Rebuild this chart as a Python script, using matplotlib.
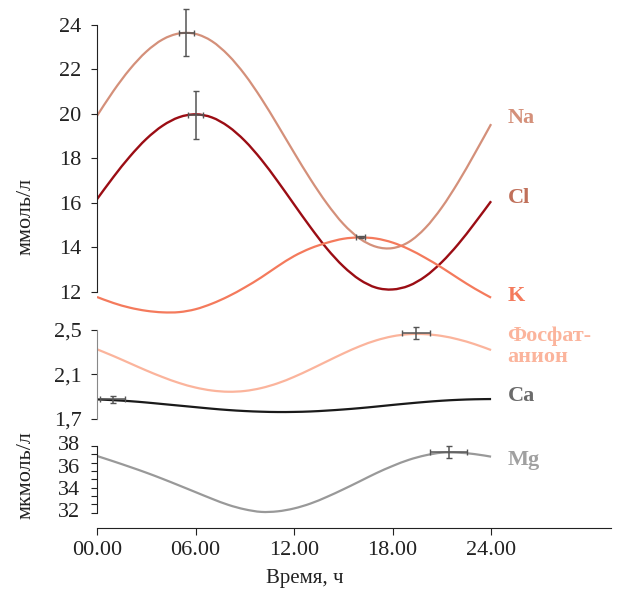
import matplotlib
matplotlib.use("Agg")
import matplotlib.pyplot as plt
import matplotlib.transforms as mtransforms
from matplotlib.path import Path
from matplotlib.patches import PathPatch

plt.rcParams['font.family'] = ['Liberation Serif', 'DejaVu Serif']

# hours of the day
hours = list(range(25))

# ммоль/л
na = [19.91, 21.03, 22.01, 22.80, 23.35, 23.62, 23.60, 23.27, 22.64, 21.77, 20.70, 19.50, 18.26,
      17.06, 15.97, 15.05, 14.39, 14.02, 13.96, 14.24, 14.87, 15.79, 16.93, 18.21, 19.54]
cl = [16.16, 17.16, 18.08, 18.87, 19.47, 19.85, 19.98, 19.84, 19.43, 18.79, 17.95, 16.97, 15.93,
      14.90, 13.94, 13.14, 12.54, 12.18, 12.10, 12.27, 12.69, 13.33, 14.14, 15.08, 16.07]
k = [11.76, 11.49, 11.28, 11.14, 11.07, 11.08, 11.21, 11.46, 11.79, 12.19, 12.64, 13.14, 13.60,
     13.95, 14.20, 14.38, 14.44, 14.39, 14.21, 13.91, 13.52, 13.08, 12.60, 12.14, 11.73]
phos = [2.326, 2.265, 2.200, 2.135, 2.075, 2.022, 1.981, 1.954, 1.943, 1.950, 1.976, 2.019, 2.077,
        2.145, 2.217, 2.288, 2.353, 2.406, 2.443, 2.462, 2.462, 2.446, 2.415, 2.372, 2.319]
ca = [1.874, 1.867, 1.858, 1.846, 1.832, 1.818, 1.804, 1.790, 1.778, 1.769, 1.763, 1.760, 1.761,
      1.765, 1.773, 1.783, 1.795, 1.809, 1.824, 1.838, 1.851, 1.862, 1.870, 1.875, 1.877]
# мкмоль/л
mg = [37.10, 36.62, 36.12, 35.60, 35.04, 34.45, 33.85, 33.25, 32.70, 32.30, 32.07, 32.12, 32.38,
      32.82, 33.42, 34.10, 34.82, 35.55, 36.20, 36.76, 37.16, 37.40, 37.40, 37.27, 37.04]

# error bars: (hour, value, hour err, value err)
na_err = (5.44, 23.65, 0.45, 1.05)
cl_err = (6.0, 19.95, 0.43, 1.06)
k_err = (16.05, 14.46, 0.25, 0.05)
phos_err = (19.43, 2.47, 0.88, 0.055)
ca_err = (0.96, 1.877, 0.75, 0.032)
mg_err = (21.43, 37.43, 1.12, 0.55)

xticks = [0, 6, 12, 18, 24]
xticklabels = ['00.00', '06.00', '12.00', '18.00', '24.00']

W, H = 623, 592
fig = plt.figure(figsize=(W / 100, H / 100), dpi=100)


def box(top, bottom):
    return [97 / W, (H - bottom) / H, 514 / W, (bottom - top) / H]


def smooth_line(ax, x, y, color, lw):
    # draw the points as a smooth curve (cubic bezier through every point)
    n = len(x)
    verts = [(x[0], y[0])]
    codes = [Path.MOVETO]
    for i in range(n - 1):
        i0 = max(i - 1, 0)
        i3 = min(i + 2, n - 1)
        c1 = (x[i] + (x[i + 1] - x[i0]) / 6, y[i] + (y[i + 1] - y[i0]) / 6)
        c2 = (x[i + 1] - (x[i3] - x[i]) / 6, y[i + 1] - (y[i3] - y[i]) / 6)
        verts += [c1, c2, (x[i + 1], y[i + 1])]
        codes += [Path.CURVE4] * 3
    ax.add_patch(PathPatch(Path(verts, codes), fill=False, edgecolor=color, lw=lw, capstyle='butt'))


ax1 = fig.add_axes(box(5, 315))
ax2 = fig.add_axes(box(318, 425))
ax3 = fig.add_axes(box(428, 520))

xmax = 514 / 16.42
for ax in (ax1, ax2, ax3):
    ax.set_facecolor('none')
    ax.set_xlim(0, xmax)
    ax.spines['top'].set_visible(False)
    ax.spines['right'].set_visible(False)
    ax.tick_params(axis='y', labelsize=16, length=4, pad=7, colors='#222222')
for ax in (ax1, ax2):
    ax.spines['bottom'].set_visible(False)
    ax.set_xticks([])

ax1.set_ylim(10.95, 24.90)
ax2.set_ylim(1.643, 2.608)
ax3.set_ylim(31.34, 39.62)

ebkw = dict(fmt='none', ecolor='#555555', elinewidth=1.1, capsize=2.5, capthick=1.0, zorder=5, clip_on=False)

# top panel
smooth_line(ax1, hours, na, '#d4907a', 1.6)
smooth_line(ax1, hours, cl, '#9b0d14', 1.7)
smooth_line(ax1, hours, k, '#f47a5c', 1.6)
for e in (na_err, cl_err, k_err):
    ax1.errorbar(e[0], e[1], xerr=e[2], yerr=e[3], **ebkw)
ax1.spines['left'].set_bounds(12, 24)
ax1.spines['left'].set_color('#222222')
ax1.set_yticks([12, 14, 16, 18, 20, 22, 24])

# middle panel
smooth_line(ax2, hours, phos, '#fbb49c', 1.6)
smooth_line(ax2, hours, ca, '#1a1a1a', 1.6)
for e in (phos_err, ca_err):
    ax2.errorbar(e[0], e[1], xerr=e[2], yerr=e[3], **ebkw)
ax2.spines['left'].set_bounds(1.7, 2.5)
ax2.spines['left'].set_color('#888888')
ax2.set_yticks([1.7, 2.1, 2.5])
ax2.set_yticklabels(['1,7', '2,1', '2,5'])

# bottom panel
smooth_line(ax3, hours, mg, '#999999', 1.6)
ax3.errorbar(mg_err[0], mg_err[1], xerr=mg_err[2], yerr=mg_err[3], **ebkw)
ax3.spines['left'].set_bounds(32, 38)
ax3.spines['left'].set_color('#222222')
ax3.set_yticks([32 + 0.75 * i for i in range(9)])
ax3.set_yticklabels([])
trans = mtransforms.blended_transform_factory(ax3.transAxes, ax3.transData)
for v in [32, 34, 36, 38]:
    ax3.text(-17 / 514, v, str(v), transform=trans, ha='right', va='center', fontsize=16, color='#222222')
ax3.spines['bottom'].set_position(('outward', 6))
ax3.spines['bottom'].set_bounds(0, xmax)
ax3.spines['bottom'].set_color('#222222')
ax3.set_xticks(xticks)
ax3.set_xticklabels(xticklabels)
ax3.tick_params(axis='x', labelsize=16, length=5, pad=4, colors='#222222')

# series labels
lab = dict(fontsize=16, fontweight='bold', va='center', ha='left')
ax1.text(25.0, 19.81, 'Na', color='#d4907a', **lab)
ax1.text(25.0, 16.21, 'Cl', color='#c0705a', **lab)
ax1.text(25.0, 11.80, 'K', color='#f47a5c', **lab)
ax2.text(25.0, 2.35, 'Фосфат-\nанион', color='#fbb49c', linespacing=1.1, **lab)
ax2.text(25.0, 1.905, 'Ca', color='#6b6b6b', **lab)
ax3.text(25.0, 36.74, 'Mg', color='#a0a0a0', **lab)

fig.text(26 / W, 1 - 216 / H, 'ммоль/л', rotation=90, ha='center', va='center', fontsize=16, color='#222222')
fig.text(26 / W, 1 - 475 / H, 'мкмоль/л', rotation=90, ha='center', va='center', fontsize=16, color='#222222')
fig.text(305 / W, 1 - 578 / H, 'Время, ч', ha='center', va='center', fontsize=15, color='#222222')

fig.savefig('out.png', dpi=100, facecolor='white')
